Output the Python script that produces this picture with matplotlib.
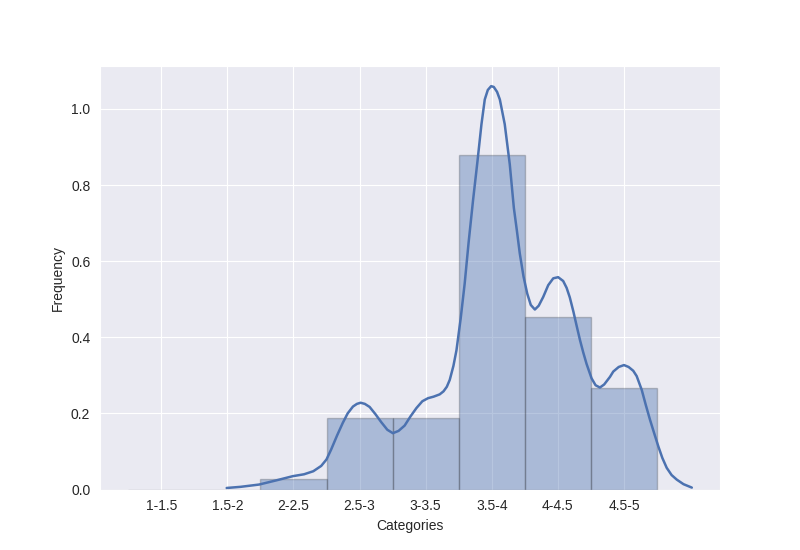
import matplotlib
matplotlib.use('Agg')
import matplotlib.pyplot as plt
import seaborn as sns

# histogram bins (left edges), bin labels and density heights
bin_edges = [1.0, 1.5, 2.0, 2.5, 3.0, 3.5, 4.0, 4.5]
bin_labels = ['1-1.5', '1.5-2', '2-2.5', '2.5-3', '3-3.5', '3.5-4', '4-4.5', '4.5-5']
bin_heights = [0.0, 0.0, 0.028, 0.189, 0.189, 0.880, 0.453, 0.268]

# kde curve
kde_x = [1.745, 1.85, 1.99, 2.12, 2.245, 2.33, 2.40, 2.46, 2.50, 2.535, 2.58, 2.623,
         2.66, 2.70, 2.73, 2.758, 2.79, 2.826, 2.87, 2.914, 2.96, 3.002, 3.045, 3.091,
         3.135, 3.18, 3.225, 3.268, 3.31, 3.356, 3.385, 3.41, 3.432, 3.46, 3.483,
         3.515, 3.545, 3.575, 3.608, 3.641, 3.672, 3.697, 3.72, 3.745, 3.765, 3.79,
         3.811, 3.848, 3.886, 3.917, 3.94, 3.962, 3.99, 4.018, 4.045, 4.076, 4.105,
         4.139, 4.177, 4.215, 4.252, 4.29, 4.316, 4.34, 4.367, 4.392, 4.417, 4.442,
         4.467, 4.505, 4.535, 4.568, 4.60, 4.644, 4.669, 4.71, 4.75, 4.785, 4.82,
         4.846, 4.884, 4.915, 4.947, 4.98, 5.01, 5.04, 5.073, 5.11, 5.149, 5.20, 5.263]
kde_y = [0.004, 0.007, 0.013, 0.024, 0.035, 0.040, 0.048, 0.062, 0.079, 0.105, 0.142,
         0.175, 0.200, 0.218, 0.225, 0.228, 0.225, 0.217, 0.198, 0.177, 0.157, 0.148,
         0.154, 0.168, 0.192, 0.214, 0.232, 0.240, 0.244, 0.250, 0.258, 0.270, 0.288,
         0.325, 0.366, 0.450, 0.541, 0.650, 0.759, 0.860, 0.960, 1.025, 1.050, 1.060,
         1.058, 1.045, 1.025, 0.960, 0.855, 0.740, 0.680, 0.620, 0.560, 0.515, 0.485,
         0.473, 0.483, 0.506, 0.537, 0.555, 0.558, 0.548, 0.530, 0.505, 0.468, 0.430,
         0.393, 0.360, 0.330, 0.292, 0.274, 0.268, 0.276, 0.296, 0.310, 0.322, 0.327,
         0.322, 0.312, 0.298, 0.262, 0.222, 0.183, 0.146, 0.113, 0.083, 0.057, 0.038,
         0.026, 0.014, 0.005]

sns.set_style('darkgrid')
plt.rcParams['font.family'] = ['Liberation Sans', 'DejaVu Sans']

fig, ax = plt.subplots(figsize=(8, 5.5), dpi=100)

color = '#4C72B0'
ax.bar(bin_edges, bin_heights, width=0.5, align='edge',
       facecolor=(0.298, 0.447, 0.690, 0.4), edgecolor=(0, 0, 0, 0.2), linewidth=1.0)
ax.plot(kde_x, kde_y, color=color, linewidth=1.8)

centers = [e + 0.25 for e in bin_edges]
ax.set_xticks(centers)
ax.set_xticklabels(bin_labels)
ax.set_xlabel('Categories')
ax.set_ylabel('Frequency')

plt.savefig('out.png', dpi=100)
plt.close()
